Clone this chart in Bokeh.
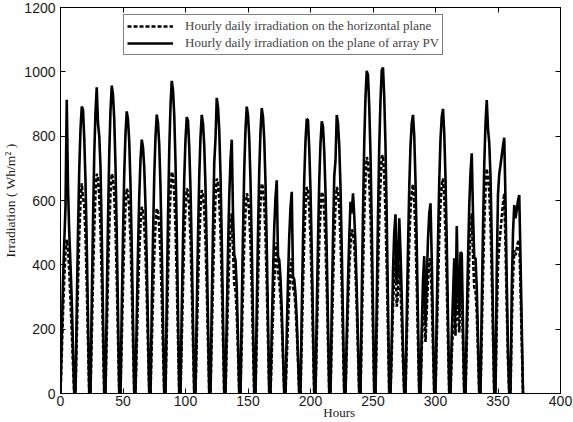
from bokeh.plotting import figure
from bokeh.models import (LinearAxis, Range1d, FixedTicker, Legend, LegendItem,
                          CustomLabelingPolicy)
from bokeh.embed import file_html
from bokeh.resources import INLINE

# Hourly values, one list of 12 hours per day (31 days)
tilted_days = [
    [0, 180, 350, 470, 580, 913, 640, 500, 400, 290, 140, 0],
    [0, 268, 500, 696, 821, 892, 882, 794, 660, 464, 232, 0],
    [0, 286, 533, 743, 876, 952, 840, 800, 704, 495, 248, 0],
    [0, 287, 536, 746, 880, 957, 928, 852, 708, 498, 249, 0],
    [0, 263, 491, 684, 807, 877, 851, 781, 649, 456, 228, 0],
    [0, 237, 442, 615, 726, 789, 765, 702, 584, 410, 205, 0],
    [0, 260, 486, 676, 798, 867, 841, 772, 642, 451, 225, 0],
    [0, 292, 544, 758, 894, 972, 943, 865, 719, 505, 253, 0],
    [0, 258, 481, 670, 790, 859, 848, 765, 636, 447, 223, 0],
    [0, 260, 485, 675, 797, 866, 840, 771, 641, 450, 225, 0],
    [0, 276, 515, 717, 792, 919, 891, 818, 680, 478, 239, 0],
    [0, 237, 442, 615, 726, 789, 560, 430, 415, 330, 170, 0],
    [0, 268, 500, 696, 821, 892, 865, 794, 660, 464, 232, 0],
    [0, 266, 497, 692, 816, 887, 860, 789, 656, 461, 231, 0],
    [0, 199, 371, 517, 610, 663, 426, 415, 360, 260, 130, 0],
    [0, 188, 351, 489, 577, 627, 364, 355, 310, 230, 115, 0],
    [0, 256, 478, 666, 786, 854, 850, 760, 632, 444, 222, 0],
    [0, 254, 474, 660, 778, 846, 830, 753, 626, 440, 220, 0],
    [0, 260, 485, 675, 725, 866, 840, 771, 641, 450, 225, 0],
    [0, 187, 348, 485, 596, 560, 622, 553, 460, 323, 162, 0],
    [0, 301, 562, 782, 923, 1003, 990, 893, 742, 522, 261, 0],
    [0, 290, 550, 770, 912, 1005, 1013, 920, 770, 545, 275, 0],
    [0, 170, 380, 500, 557, 338, 400, 545, 440, 300, 140, 0],
    [0, 240, 450, 640, 770, 840, 866, 800, 660, 460, 230, 0],
    [0, 200, 350, 427, 210, 350, 480, 560, 591, 420, 200, 0],
    [0, 250, 470, 660, 790, 860, 885, 810, 670, 470, 235, 0],
    [0, 180, 303, 420, 240, 521, 330, 245, 439, 436, 210, 0],
    [0, 224, 418, 583, 687, 747, 560, 421, 421, 330, 170, 0],
    [0, 274, 511, 711, 839, 912, 823, 780, 675, 474, 237, 0],
    [0, 380, 620, 683, 710, 740, 770, 795, 600, 350, 130, 0],
    [0, 320, 500, 586, 545, 570, 600, 617, 420, 210, 0, 0],
]

horizontal_days = [
    [0, 120, 250, 360, 440, 478, 450, 380, 290, 190, 90, 0],
    [0, 170, 340, 490, 594, 653, 610, 585, 490, 340, 163, 0],
    [0, 178, 355, 512, 622, 683, 669, 615, 512, 355, 171, 0],
    [0, 180, 358, 515, 625, 683, 672, 617, 515, 358, 172, 0],
    [0, 166, 331, 478, 580, 637, 624, 573, 478, 331, 159, 0],
    [0, 151, 302, 435, 528, 580, 568, 522, 435, 302, 145, 0],
    [0, 150, 299, 431, 523, 575, 564, 518, 431, 299, 144, 0],
    [0, 179, 358, 517, 627, 689, 675, 620, 517, 358, 172, 0],
    [0, 166, 331, 478, 580, 637, 630, 573, 478, 331, 159, 0],
    [0, 164, 329, 474, 575, 632, 619, 569, 474, 329, 158, 0],
    [0, 174, 347, 501, 608, 668, 655, 601, 501, 347, 167, 0],
    [0, 146, 291, 420, 510, 560, 450, 340, 320, 250, 130, 0],
    [0, 162, 323, 467, 566, 622, 610, 560, 467, 323, 156, 0],
    [0, 170, 340, 490, 594, 653, 640, 588, 490, 340, 163, 0],
    [0, 122, 244, 353, 428, 470, 370, 350, 300, 220, 110, 0],
    [0, 109, 218, 315, 382, 420, 330, 315, 270, 195, 100, 0],
    [0, 167, 334, 482, 584, 642, 629, 578, 482, 334, 161, 0],
    [0, 163, 326, 470, 571, 627, 614, 564, 470, 326, 157, 0],
    [0, 167, 334, 482, 584, 642, 629, 578, 482, 334, 161, 0],
    [0, 133, 265, 383, 464, 510, 500, 459, 383, 265, 128, 0],
    [0, 191, 382, 551, 669, 735, 720, 662, 551, 382, 184, 0],
    [0, 185, 370, 540, 660, 735, 741, 675, 560, 390, 190, 0],
    [0, 120, 270, 370, 420, 270, 310, 400, 330, 220, 100, 0],
    [0, 160, 320, 470, 570, 630, 650, 600, 490, 340, 160, 0],
    [0, 140, 250, 310, 160, 260, 350, 410, 420, 300, 140, 0],
    [0, 165, 330, 485, 590, 650, 668, 610, 500, 345, 165, 0],
    [0, 120, 210, 300, 180, 380, 250, 190, 330, 320, 150, 0],
    [0, 146, 291, 420, 510, 560, 430, 330, 320, 250, 125, 0],
    [0, 182, 363, 524, 636, 699, 670, 629, 524, 363, 175, 0],
    [0, 220, 400, 460, 505, 550, 590, 622, 460, 270, 100, 0],
    [0, 210, 360, 445, 430, 450, 470, 477, 330, 160, 0, 0],
]

x_ticks = [0, 50, 100, 150, 200, 250, 300, 350, 400]
y_ticks = [0, 200, 400, 600, 800, 1000, 1200]
label_horizontal = "Hourly daily irradiation on the horizontal plane"
label_tilted = "Hourly daily irradiation on the plane of array PV"
x_title = "Hours"
y_title = "Irradiation ( Wh/m\u00b2 )"

tilted = [v for day in tilted_days for v in day]
horizontal = [v for day in horizontal_days for v in day]
hours = list(range(len(tilted)))

SERIF = "Liberation Serif"
SANS = "Liberation Sans"

p = figure(width=573, height=422, output_backend="svg", toolbar_location=None,
           x_range=Range1d(0, 400), y_range=Range1d(0, 1200),
           min_border_left=60, min_border_right=13, min_border_top=7, min_border_bottom=0)
p.background_fill_color = "white"
p.border_fill_color = "white"
p.outline_line_color = "black"
p.outline_line_width = 1
p.xgrid.visible = False
p.ygrid.visible = False

r_tilt = p.line(hours, tilted, line_color="black", line_width=2.6)
r_hor = p.line(hours, horizontal, line_color="black", line_width=2.6, line_dash="4 2")

hide_all = CustomLabelingPolicy(code="""
const ids = Array.from(indices);
for (const i of ids) { indices.unset(i); }
return indices;
""")

def style_axis(ax, ticks, show_labels=True):
    ax.ticker = FixedTicker(ticks=ticks)
    ax.major_tick_in = 5
    ax.major_tick_out = 0
    ax.minor_tick_in = 0
    ax.minor_tick_out = 0
    ax.axis_line_color = "black"
    ax.major_tick_line_color = "black"
    ax.major_label_text_font = SANS
    ax.major_label_text_color = "#1a1a1a"
    if show_labels:
        ax.major_label_text_font_size = "14px"
        ax.major_label_standoff = 2
    else:
        ax.major_label_text_font_size = "1px"
        ax.major_label_standoff = 0
        ax.major_label_policy = hide_all

style_axis(p.xaxis[0], x_ticks)
style_axis(p.yaxis[0], y_ticks)
p.yaxis[0].major_label_standoff = 5
p.yaxis[0].axis_label = y_title
p.yaxis[0].axis_label_text_font = SERIF
p.yaxis[0].axis_label_text_font_style = "normal"
p.yaxis[0].axis_label_text_font_size = "13.5px"
p.yaxis[0].axis_label_text_color = "#1a1a1a"
p.yaxis[0].axis_label_standoff = 3

# axis carrying only the x title, placed right of centre as in the original
hours_axis = LinearAxis(ticker=FixedTicker(ticks=[223]), major_label_overrides={223: x_title})
hours_axis.axis_line_color = None
hours_axis.major_tick_line_color = None
hours_axis.minor_tick_line_color = None
hours_axis.major_label_text_font = SERIF
hours_axis.major_label_text_font_size = "13px"
hours_axis.major_label_text_color = "#1a1a1a"
hours_axis.major_label_standoff = -10
p.add_layout(hours_axis, "below")

top = LinearAxis()
style_axis(top, x_ticks, show_labels=False)
p.add_layout(top, "above")
right = LinearAxis()
style_axis(right, y_ticks, show_labels=False)
p.add_layout(right, "right")

legend = Legend(items=[LegendItem(label=label_horizontal, renderers=[r_hor]),
                       LegendItem(label=label_tilted, renderers=[r_tilt])],
                location=(63, 338))
legend.label_text_font = SERIF
legend.label_text_font_size = "13px"
legend.label_height = 16
legend.glyph_height = 16
legend.glyph_width = 46
legend.label_standoff = 12
legend.spacing = 1
legend.padding = 3
legend.margin = 0
legend.border_line_color = "black"
legend.border_line_width = 1
legend.background_fill_alpha = 1
p.add_layout(legend, "center")

open("out.html", "w").write(file_html(p, INLINE))
